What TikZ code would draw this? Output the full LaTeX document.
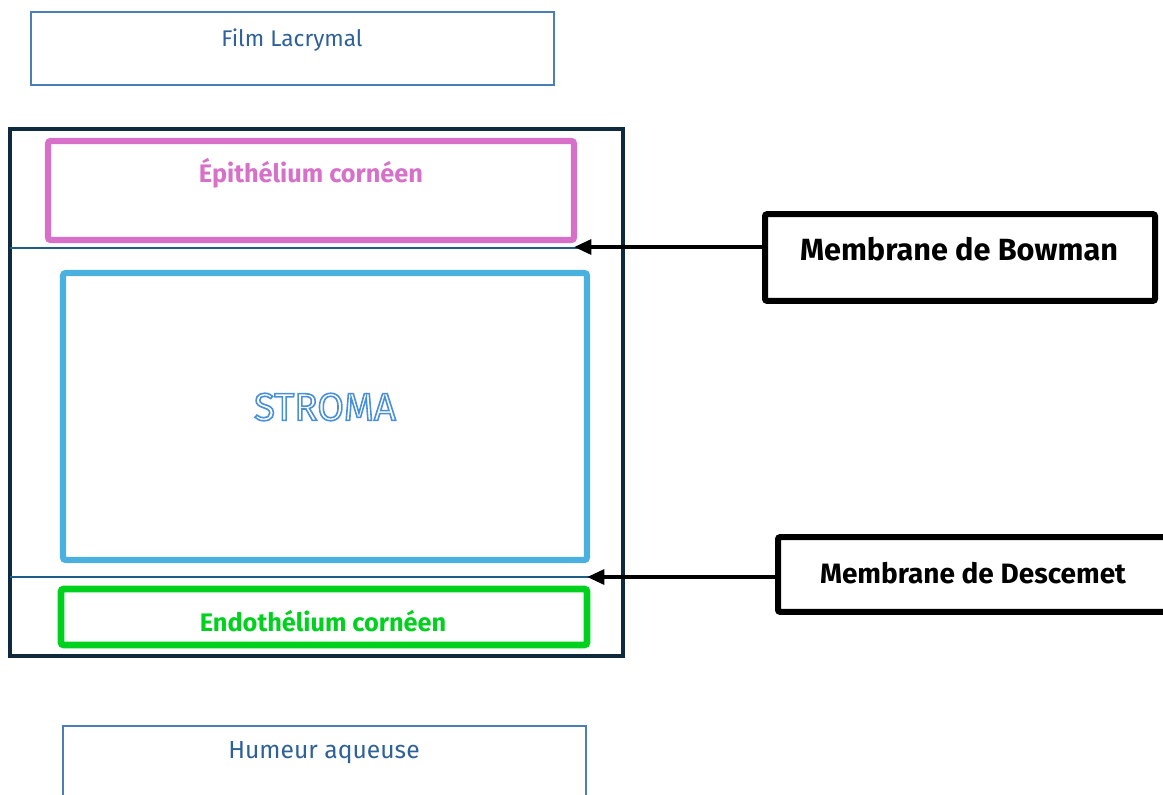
\documentclass[tikz,border=0pt]{standalone}
\usepackage{fontspec}
\setmainfont{Fira Sans}
\usetikzlibrary{arrows.meta}

\definecolor{filmblue}{HTML}{4A7EB5}
\definecolor{filmtext}{HTML}{2E6099}
\definecolor{navy}{HTML}{0F2A3D}
\definecolor{sepblue}{HTML}{1E5D88}
\definecolor{epipink}{HTML}{D670C8}
\definecolor{stromabox}{HTML}{4AB0E0}
\definecolor{stromatext}{HTML}{4A8FDA}
\definecolor{endogreen}{HTML}{00D11E}

\tikzset{
  thinbox/.style={draw=filmblue, line width=0.9pt},
  layer/.style={line width=4.6pt, rounded corners=2pt},
  membox/.style={draw=black, line width=4.5pt, rounded corners=1.5pt},
  layertxt/.style={font=\bfseries\fontsize{19}{21}\selectfont},
  memtxt/.style={font=\bfseries\fontsize{23}{26}\selectfont},
  tip/.style={line width=3pt, -{Triangle[length=13pt, width=11pt]}},
}

\begin{document}
\begin{tikzpicture}[x=0.75pt, y=-0.75pt]
    \useasboundingbox (0,0) rectangle (1163,794);

    % boites exterieures
    \draw[thinbox] (31,12) rectangle (554,85);
    \node[text=filmtext, font=\fontsize{17}{20}\selectfont](film) at (292,40){Film Lacrymal};
    \draw[thinbox] (63,800) |- (586,726) -- (586,800);
    \node[text=filmtext, font=\fontsize{18.5}{20}\selectfont](humeur) at (324,753){Humeur aqueuse};

    % cornee
    \draw[navy, line width=2.4pt] (10,129) rectangle (623,656);
    \draw[sepblue, line width=2.2pt] (10,248) -- (623,248);
    \draw[sepblue, line width=2.2pt] (10,577) -- (623,577);

    \draw[layer, draw=epipink] (48,141) rectangle (574,240);
    \node[layertxt, text=epipink](epi) at (311,173){Épithélium cornéen};

    \draw[layer, draw=stromabox] (63,273) rectangle (587,560);
    \node[text=stromatext, font=\fontsize{29}{31}\selectfont](stroma) at (325,407)
      {\special{pdf:code 1 Tr 1.2 w}STROMA\special{pdf:code 0 Tr}};

    \draw[layer, draw=endogreen, line width=5pt] (61,589) rectangle (587,645);
    \node[layertxt, text=endogreen](endo) at (323,621){Endothélium cornéen};

    % membranes
    \node[membox, minimum width=292.5pt, minimum height=65pt](bowman) at (960,257.5){};
    \node[memtxt](bowtxt) at (959,249){Membrane de Bowman};
    \node[membox, minimum width=292.5pt, minimum height=56pt](descemet) at (973,574.5){};
    \node[memtxt, font=\bfseries\fontsize{21}{24}\selectfont](desctxt) at (973,573){Membrane de Descemet};

    \coordinate (bowtip) at (574,247);
    \coordinate (desctip) at (587,577);
    \draw[tip](bowman.west |- bowtip)--(bowtip);
    \draw[tip](descemet.west |- desctip)--(desctip);
  \end{tikzpicture}
\end{document}
